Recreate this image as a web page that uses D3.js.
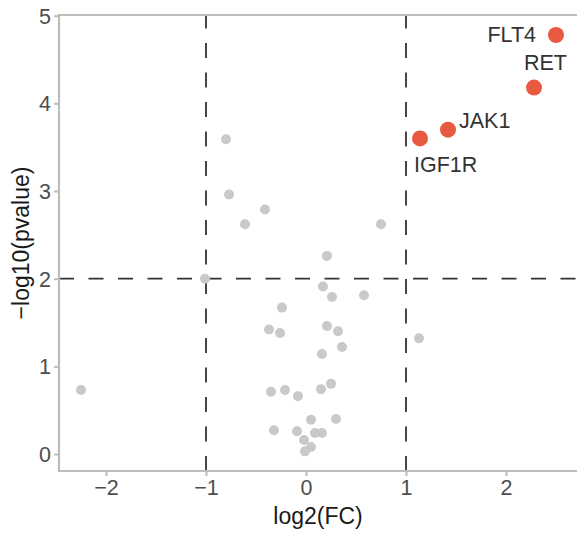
<!DOCTYPE html>
<html>
<head>
<meta charset="utf-8">
<script src="https://cdn.jsdelivr.net/npm/d3@7"></script>
<style>
  html, body { margin: 0; padding: 0; background: #fff; }
  svg { display: block; font-family: "Liberation Sans", Arial, sans-serif; }
</style>
</head>
<body>
<svg id="chart" width="577" height="533"></svg>
<script>
// ---- data ----
const greyLog2FC = [-0.80, -0.77, -0.61, -0.41, 0.75, 0.21, -1.01, 0.17, 0.26, 0.58, -0.24, -0.37, -0.26, 0.21, 0.32, 0.36, 0.16, 1.13, -0.35, -0.21, -0.08, 0.15, 0.25, 0.05, 0.30, -0.32, -0.09, 0.09, 0.16, -0.02, 0.05, -0.01, -2.25];
const greyNegLogP = [3.59, 2.96, 2.62, 2.79, 2.62, 2.26, 2.00, 1.91, 1.79, 1.81, 1.67, 1.42, 1.38, 1.46, 1.40, 1.22, 1.14, 1.32, 0.71, 0.73, 0.66, 0.74, 0.80, 0.39, 0.40, 0.27, 0.26, 0.24, 0.24, 0.16, 0.08, 0.03, 0.73];

const sigGenes = ["FLT4", "RET", "JAK1", "IGF1R"];
const sigLog2FC = [2.50, 2.28, 1.42, 1.14];
const sigNegLogP = [4.78, 4.18, 3.70, 3.60];

const xTicks = [-2, -1, 0, 1, 2];
const yTicks = [0, 1, 2, 3, 4, 5];
const fcCutoffs = [-1, 1];
const pCutoff = 2;
const xTitle = "log2(FC)";
const yTitle = "\u2212log10(pvalue)";

// label placement (pixel offsets from point), styling only
const labelPlacement = {
  FLT4:  { dx: -20, dy: 7,  anchor: "end" },
  RET:   { dx: -10, dy: -18, anchor: "start" },
  JAK1:  { dx: 11,  dy: -2, anchor: "start" },
  IGF1R: { dx: -6,  dy: 34, anchor: "start" }
};

// ---- layout ----
const pLeft = 59, pRight = 577, pTop = 15, pBottom = 471;

const x = d3.scaleLinear().domain([-2.47, 2.71]).range([pLeft, pRight]);
const y = d3.scaleLinear().domain([-0.194, 5.008]).range([pBottom, pTop]);

const svg = d3.select("#chart");
const axisColor = "#bdbdbd";
const tickText = "#4d4d4d";

// cutoff lines
const g = svg.append("g");
g.selectAll("line.v").data(fcCutoffs).join("line")
  .attr("x1", d => x(d)).attr("x2", d => x(d))
  .attr("y1", pBottom).attr("y2", pTop)
  .attr("stroke", "#333").attr("stroke-width", 1.8)
  .attr("stroke-dasharray", "15,14.5");
g.append("line")
  .attr("x1", pLeft).attr("x2", pRight)
  .attr("y1", y(pCutoff)).attr("y2", y(pCutoff))
  .attr("stroke", "#333").attr("stroke-width", 1.8)
  .attr("stroke-dasharray", "15,14.5");

// grey points
const grey = greyLog2FC.map((v, i) => ({ x: v, y: greyNegLogP[i] }));
svg.append("g").selectAll("circle").data(grey).join("circle")
  .attr("cx", d => x(d.x)).attr("cy", d => y(d.y))
  .attr("r", 5).attr("fill", "#c9c9c9");

// significant points
const sig = sigGenes.map((n, i) => ({ name: n, x: sigLog2FC[i], y: sigNegLogP[i] }));
svg.append("g").selectAll("circle").data(sig).join("circle")
  .attr("cx", d => x(d.x)).attr("cy", d => y(d.y))
  .attr("r", 8).attr("fill", "#e85a40");

svg.append("g").selectAll("text").data(sig).join("text")
  .attr("x", d => x(d.x) + labelPlacement[d.name].dx)
  .attr("y", d => y(d.y) + labelPlacement[d.name].dy)
  .attr("text-anchor", d => labelPlacement[d.name].anchor)
  .attr("font-size", 21.5).attr("fill", "#333")
  .text(d => d.name);

// axes
const xAxis = svg.append("g").attr("transform", `translate(0,${pBottom})`)
  .call(d3.axisBottom(x).tickValues(xTicks).tickSize(5).tickPadding(4)
    .tickFormat(d => d < 0 ? "\u2212" + Math.abs(d) : String(d)));
const yAxis = svg.append("g").attr("transform", `translate(${pLeft},0)`)
  .call(d3.axisLeft(y).tickValues(yTicks).tickSize(5).tickPadding(3)
    .tickFormat(d3.format("d")));

[xAxis, yAxis].forEach(a => {
  a.select(".domain").remove();
  a.selectAll(".tick line").attr("stroke", axisColor).attr("stroke-width", 2);
  a.selectAll(".tick text").attr("fill", tickText).attr("font-size", 21.5)
    .attr("font-family", "Liberation Sans, Arial, sans-serif");
});
yAxis.selectAll(".tick text").attr("dy", "0.35em");

// axis lines + top border
svg.append("line").attr("x1", pLeft).attr("x2", pLeft).attr("y1", pTop - 1).attr("y2", pBottom + 1)
  .attr("stroke", axisColor).attr("stroke-width", 2.2);
svg.append("line").attr("x1", pLeft - 1).attr("x2", pRight).attr("y1", pBottom).attr("y2", pBottom)
  .attr("stroke", axisColor).attr("stroke-width", 2.2);
svg.append("line").attr("x1", pLeft - 1).attr("x2", pRight).attr("y1", pTop).attr("y2", pTop)
  .attr("stroke", axisColor).attr("stroke-width", 2.2);

// titles
svg.append("text").attr("x", (pLeft + pRight) / 2).attr("y", 524)
  .attr("text-anchor", "middle").attr("font-size", 23).attr("fill", "#1a1a1a")
  .text(xTitle);
svg.append("text").attr("transform", `translate(29,${(pTop + pBottom) / 2}) rotate(-90)`)
  .attr("text-anchor", "middle").attr("font-size", 23).attr("fill", "#1a1a1a")
  .text(yTitle);
</script>
</body>
</html>
